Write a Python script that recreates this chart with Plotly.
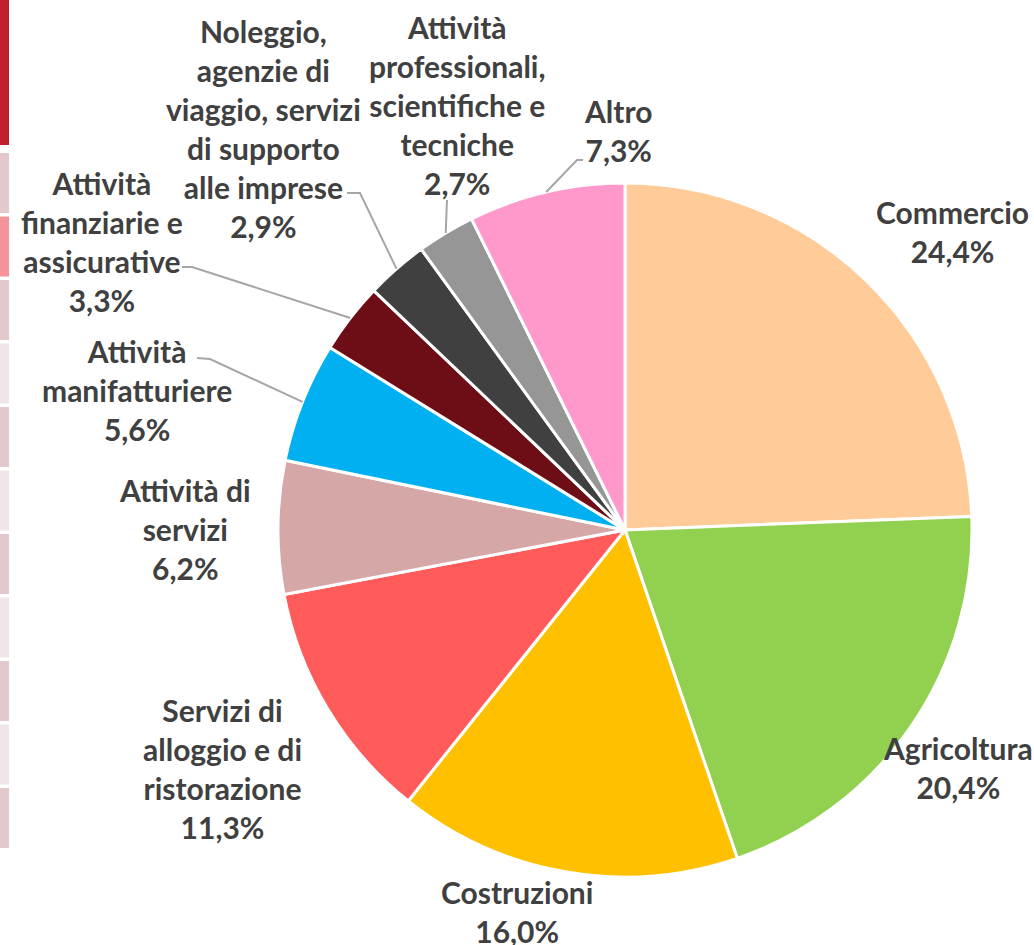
import plotly.graph_objects as go
import math

W, H = 1034, 945

# data
sectors = [
    "Commercio",
    "Agricoltura",
    "Costruzioni",
    "Servizi di alloggio e di ristorazione",
    "Attività di servizi",
    "Attività manifatturiere",
    "Attività finanziarie e assicurative",
    "Noleggio, agenzie di viaggio, servizi di supporto alle imprese",
    "Attività professionali, scientifiche e tecniche",
    "Altro",
]
shares = [24.4, 20.4, 16.0, 11.3, 6.2, 5.6, 3.3, 2.9, 2.7, 7.3]
wrapped = [
    "Commercio",
    "Agricoltura",
    "Costruzioni",
    "Servizi di<br>alloggio e di<br>ristorazione",
    "Attività di<br>servizi",
    "Attività<br>manifatturiere",
    "Attività<br>finanziarie e<br>assicurative",
    "Noleggio,<br>agenzie di<br>viaggio, servizi<br>di supporto<br>alle imprese",
    "Attività<br>professionali,<br>scientifiche e<br>tecniche",
    "Altro",
]
colors = [
    "#FFCC99", "#92D050", "#FFC000", "#FF5B5B", "#D6A7A7",
    "#00B0F0", "#6D0E16", "#404040", "#969696", "#FF99CC",
]

# layout (pixels from top-left)
CX, CY, R = 625, 530, 347
label_pos = [
    (952, 232), (958, 767), (517, 911), (222, 768), (185, 529),
    (137, 390), (102, 241), (263, 129), (457, 105), (618, 130),
]
# label-side end of leader lines (None = no leader)
leader = [
    None, None, None, None, None,
    [(197, 358), (210, 359)],
    [(182, 267), (192, 267)],
    [(347, 193), (360, 193)],
    [(447, 200)],
    [(583, 160), (577, 160)],
]


def px(x):
    return x / W


def py(y):
    return 1 - y / H


fig = go.Figure(
    go.Pie(
        labels=sectors,
        values=shares,
        sort=False,
        direction="clockwise",
        rotation=0,
        marker=dict(colors=colors, line=dict(color="white", width=3)),
        textinfo="none",
        hoverinfo="label+percent",
        showlegend=False,
        domain=dict(x=[px(CX - R), px(CX + R)], y=[py(CY + R), py(CY - R)]),
    )
)

total = sum(shares)
cum = 0
for name, v, (lx, ly), lead in zip(wrapped, shares, label_pos, leader):
    mid = (cum + v / 2) / total * 2 * math.pi
    cum += v
    txt = name + "<br>" + f"{v:.1f}".replace(".", ",") + "%"
    fig.add_annotation(
        x=px(lx), y=py(ly), xref="paper", yref="paper",
        text=txt, showarrow=False, align="center",
        xanchor="center", yanchor="middle",
        font=dict(family="Lato", size=30, color="#404040", weight="bold"),
    )
    if lead:
        ex = CX + R * math.sin(mid)
        ey = CY - R * math.cos(mid)
        pts = lead + [(ex, ey)]
        path = "M " + " L ".join(f"{px(a)},{py(b)}" for a, b in pts)
        fig.add_shape(type="path", path=path, xref="paper", yref="paper",
                      line=dict(color="#A6A6A6", width=2))

# strip of coloured cells on the left edge
fig.add_shape(type="rect", xref="paper", yref="paper",
              x0=0, x1=px(9), y0=py(145), y1=py(0),
              fillcolor="#BE1E2D", line=dict(width=0), layer="below")
cell_fill = ["#E3C9CB", "#F4939B"] + ["#E3C9CB", "#F2E5E7"] * 4 + ["#E3C9CB"]
top = 153
for c in cell_fill:
    fig.add_shape(type="rect", xref="paper", yref="paper",
                  x0=0, x1=px(9), y0=py(top + 60), y1=py(top),
                  fillcolor=c, line=dict(width=0), layer="below")
    top += 63.5

fig.update_layout(
    width=W, height=H,
    margin=dict(l=0, r=0, t=0, b=0),
    paper_bgcolor="white", plot_bgcolor="white",
)

fig.write_html("out.html", config={"displayModeBar": False},
               post_script="document.body.style.margin='0';")
